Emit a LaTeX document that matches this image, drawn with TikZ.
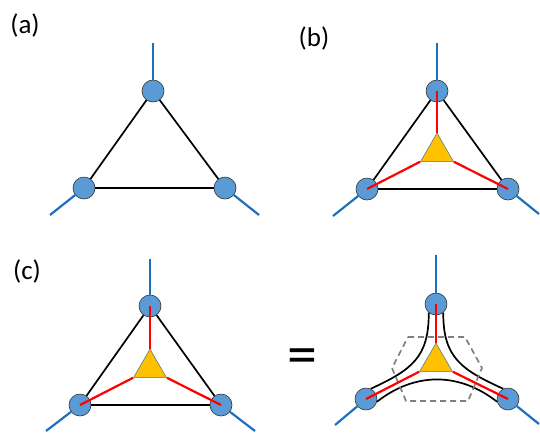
\documentclass[tikz,border=0pt]{standalone}
\usepackage{fontspec}
\setmainfont{Carlito}
\usetikzlibrary{shapes.geometric}
\definecolor{siteblue}{RGB}{91,155,213}
\definecolor{legblue}{RGB}{30,112,190}
\definecolor{bondred}{RGB}{255,0,0}
\definecolor{coreyellow}{RGB}{255,192,0}
\definecolor{coreedge}{RGB}{65,113,156}
\tikzset{site/.style={circle,draw=black!80,fill=siteblue,minimum size=22pt,inner sep=0pt,line width=.6pt},
 leg/.style={draw=legblue,line width=2.2pt},
 ring/.style={draw=black,line width=1.7pt},
 bond/.style={draw=bondred,line width=2.2pt},
 core/.style={regular polygon,regular polygon sides=3,fill=coreyellow,draw=coreedge,line width=.5pt,minimum size=38pt,inner sep=0pt},
 cell/.style={draw=gray,dash pattern=on 6pt off 4pt,line width=1.7pt},
 paneltag/.style={font=\fontsize{27}{30}\selectfont},
 every picture/.style={line join=round}}

\begin{document}
\begin{tikzpicture}[x=1pt,y=-1pt]
\useasboundingbox (0,0) rectangle (540,432);
% (a)
\node[paneltag] (tag-a) at (25,25) {(a)};
\node[site] (a-top) at (153,91) {};
\node[site] (a-bl) at (84,188) {};
\node[site] (a-br) at (225,188) {};
\coordinate (a-up) at (153,43);
\coordinate (a-dl) at (50,215);
\coordinate (a-dr) at (259,215);
\draw[leg] (a-top) -- (a-up);
\draw[leg] (a-bl) -- (a-dl);
\draw[leg] (a-br) -- (a-dr);
\draw[ring] (a-top) -- (a-bl);
\draw[ring] (a-bl) -- (a-br);
\draw[ring] (a-br) -- (a-top);
% (b)
\node[paneltag] (tag-b) at (314,38) {(b)};
\node[site] (b-top) at (437,91) {};
\node[site] (b-bl) at (367,189) {};
\node[site] (b-br) at (508,189) {};
\coordinate (b-up) at (437,43);
\coordinate (b-dl) at (333,216);
\coordinate (b-dr) at (539,214);
\draw[leg] (b-top) -- (b-up);
\draw[leg] (b-bl) -- (b-dl);
\draw[leg] (b-br) -- (b-dr);
\draw[ring] (b-top) -- (b-bl);
\draw[ring] (b-bl) -- (b-br);
\draw[ring] (b-br) -- (b-top);
\node[core] (b-core) at (437,152) {};
\draw[bond] (b-top.center) -- (b-core.corner 1);
\draw[bond] (b-bl.center) -- (b-core.corner 2);
\draw[bond] (b-br.center) -- (b-core.corner 3);
% (c)
\node[paneltag] (tag-c) at (27,271) {(c)};
\node[site] (c-top) at (150,306) {};
\node[site] (c-bl) at (80,405) {};
\node[site] (c-br) at (221,405) {};
\coordinate (c-up) at (150,259);
\coordinate (c-dl) at (46,431);
\coordinate (c-dr) at (255,431);
\draw[leg] (c-top) -- (c-up);
\draw[leg] (c-bl) -- (c-dl);
\draw[leg] (c-br) -- (c-dr);
\draw[ring] (c-top) -- (c-bl);
\draw[ring] (c-bl) -- (c-br);
\draw[ring] (c-br) -- (c-top);
\node[core] (c-core) at (150,368) {};
\draw[bond] (c-top.center) -- (c-core.corner 1);
\draw[bond] (c-bl.center) -- (c-core.corner 2);
\draw[bond] (c-br.center) -- (c-core.corner 3);
% = (d)
\node[font=\fontsize{60}{60}\selectfont] (eq) at (302,362) {=};
\node[site] (d-top) at (436,304) {};
\node[site] (d-bl) at (366,399) {};
\node[site] (d-br) at (508,399) {};
\coordinate (d-up) at (436,255);
\coordinate (d-dl) at (335,425);
\coordinate (d-dr) at (539,424);
\draw[leg] (d-top) -- (d-up);
\draw[leg] (d-bl) -- (d-dl);
\draw[leg] (d-br) -- (d-dr);
\draw[ring] (d-top.230) .. controls (429,358) and (411,370) .. (d-bl.65);
\draw[ring] (d-top.310) .. controls (443,358) and (462,370) .. (d-br.115);
\draw[ring] (d-bl.-14) .. controls (415,372) and (459,372) .. (d-br.194);
\path[cell] (408,337) -- (465,337) -- (482,368) -- (468,401) -- (406,401) -- (392,368) -- cycle;
\node[core] (d-core) at (436,362) {};
\draw[bond] (d-top.center) -- (d-core.corner 1);
\draw[bond] (d-bl.center) -- (d-core.corner 2);
\draw[bond] (d-br.center) -- (d-core.corner 3);
\end{tikzpicture}
\end{document}
